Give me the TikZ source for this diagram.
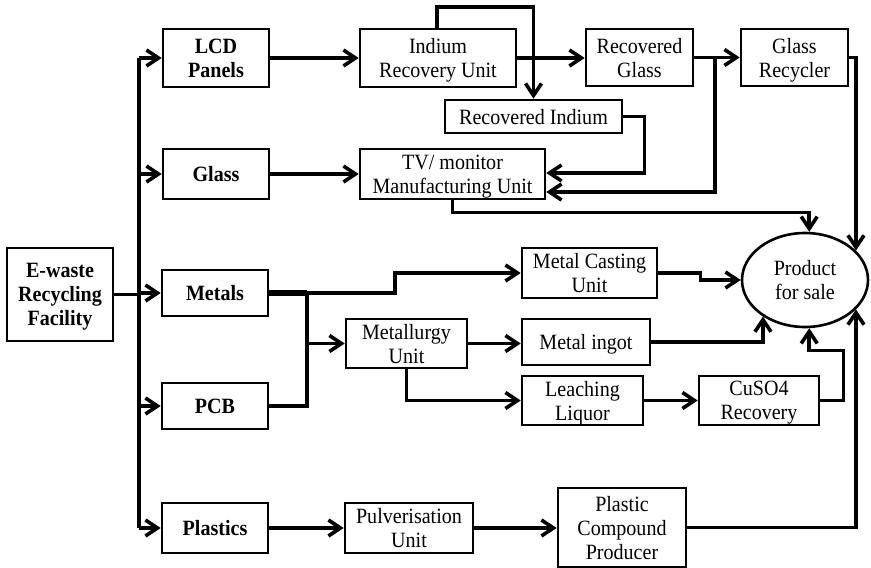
\documentclass[tikz,border=0pt]{standalone}
\usepackage{fontspec}
\setmainfont{Liberation Serif}[FakeStretch=0.92]
\usetikzlibrary{arrows.meta,shapes.geometric,calc}
\begin{document}
\begin{tikzpicture}[x=1pt,y=-1pt,
  box/.style={draw,line width=2.6pt,inner sep=0pt,align=center,text depth=0pt,
    font=\fontsize{21.8}{24}\selectfont},
  bbox/.style={box,font=\fontsize{21.8}{24}\selectfont\bfseries},
  link/.style={line width=3.6pt},
  arr/.style={link,-{Straight Barb[length=12pt,width=16pt]}},
]
\useasboundingbox (0,0) rectangle (871,568);

% source and first-level streams
\node[bbox,minimum width=106pt,minimum height=93pt] (ew)  at (60,294.5) {E-waste\\Recycling\\Facility};
\node[bbox,minimum width=106pt,minimum height=58pt] (lcd) at (216,58)  {LCD\\Panels};
\node[bbox,minimum width=106pt,minimum height=50pt] (gl)  at (216,174) {Glass};
\node[bbox,minimum width=106pt,minimum height=46pt] (met) at (215,293) {Metals};
\node[bbox,minimum width=106pt,minimum height=46pt] (pcb) at (215,406) {PCB};
\node[bbox,minimum width=106pt,minimum height=50pt] (pla) at (215,528) {Plastics};

% LCD / glass branch
\node[box,minimum width=156pt,minimum height=58pt] (iru) at (438,58)     {Indium\\Recovery Unit};
\node[box,minimum width=107pt,minimum height=57pt] (rg)  at (639.5,57.5) {Recovered\\Glass};
\node[box,minimum width=107pt,minimum height=57pt] (grc) at (794.5,57.5) {Glass\\Recycler};
\node[box,minimum width=177pt,minimum height=33pt] (ri)  at (533.5,116.5) {Recovered Indium};
\node[box,minimum width=185pt,minimum height=50pt] (tv)  at (452.5,174)  {TV/ monitor\\Manufacturing Unit};

% metals / PCB branch
\node[box,minimum width=135pt,minimum height=50pt] (mc) at (589.5,273)   {Metal Casting\\Unit};
\node[box,minimum width=121pt,minimum height=49pt] (mu) at (406.5,343.5) {Metallurgy\\Unit};
\node[box,minimum width=128pt,minimum height=46pt] (mi) at (586,342)     {Metal ingot};
\node[box,minimum width=121pt,minimum height=49pt] (ll) at (582.5,400.5) {Leaching\\Liquor};
\node[box,minimum width=120pt,minimum height=49pt] (cu) at (759,400.5)   {CuSO4\\Recovery};

% plastics branch
\node[box,minimum width=128pt,minimum height=50pt] (pu) at (409,528)   {Pulverisation\\Unit};
\node[box,minimum width=128pt,minimum height=79pt] (pc) at (622,527.5) {Plastic\\Compound\\Producer};

% end product
\node[draw,ellipse,line width=2.6pt,inner sep=0pt,minimum width=126pt,minimum height=94pt,
  align=center,text depth=0pt,font=\fontsize{21.8}{24}\selectfont] (prod) at (805,280) {Product\\for sale};

% trunk from the facility to the five streams
\draw[link] (ew.east) -- ++(24.5,0) coordinate (tr);
\draw[link] (tr |- lcd.west) -- (tr |- pla.west);
\foreach \n in {lcd,gl,met,pcb,pla}
  \draw[arr] (tr |- \n.west) -- (\n.west);

% LCD panels and glass
\draw[arr] (lcd.east) -- (iru.west);
\draw[arr] (gl.east) -- (gl.east -| tv.west);
\draw[arr] (iru.east) -- (iru.east -| rg.west);
\coordinate (fb) at (437,7);
\draw[arr] (iru.north -| fb) -- (fb) -| (ri.north);
\draw[arr] (rg.east) -- (grc.west);
\draw[arr] ($(rg.east)!0.45!(grc.west)$) |- ([yshift=-18pt]tv.east);
\draw[arr] (ri.east) -- ++(21,0) |- ([yshift=1pt]tv.east);
\draw[arr] (grc.east) -| (prod.30);
\draw[arr] (tv.south) -- ++(0,12) -| (prod.85);

% metals and PCB
\coordinate (jt) at (307,293);
\draw[link,line width=5.5pt] (met.east) -- (jt);
\draw[arr] (jt) -- (395,293) |- (mc.west);
\draw[link] (pcb.east) -| (jt);
\draw[arr] (jt |- mu.west) -- (mu.west);
\draw[arr] (mu.east) -- (mu.east -| mi.west);
\draw[arr] (mu.south) |- (ll.west);
\draw[arr] (ll.east) -- (cu.west);
\draw[arr] (mc.east) -- ++(42,0) |- (prod.west);
\draw[arr] (mi.east) -| (prod.221);
\draw[arr] (cu.east) -- ++(23,0) -- ++(0,-50) -| (prod.275);

% plastics
\draw[arr] (pla.east) -- (pla.east -| pu.west);
\draw[arr] (pu.east) -- (pu.east -| pc.west);
\draw[arr] (pc.east) -| (prod.-30);
\end{tikzpicture}
\end{document}
